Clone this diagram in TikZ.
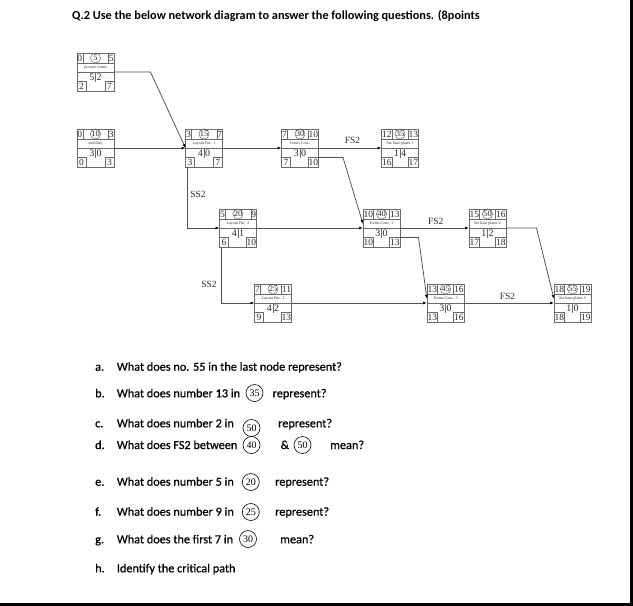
\documentclass[tikz,border=0pt]{standalone}
\usepackage{fontspec}
\setmainfont{Liberation Serif}
\newfontfamily\qfont[FakeBold=0.7]{Carlito}
\newfontfamily\tfont{Carlito}
\usetikzlibrary{arrows.meta,calc}
\definecolor{linec}{HTML}{6A6A6A}
\definecolor{numc}{HTML}{2B2B2B}
\definecolor{arrc}{HTML}{505050}
\tikzset{
 abox/.style={draw=linec,line width=0.6pt,minimum width=37pt,minimum height=38pt,inner sep=0pt,outer sep=0pt},
 cell/.style={draw=linec,line width=0.5pt,inner sep=0.5pt,outer sep=0pt,minimum height=10pt,font=\fontsize{9.5}{9.5}\selectfont,text=numc},
 bcell/.style={cell,minimum height=9.5pt,minimum width=9pt},
 idc/.style={circle,draw=linec,line width=0.5pt,inner sep=0pt,minimum size=10pt,font=\fontsize{8.5}{8.5}\selectfont,text=numc},
 inl/.style={draw=linec,line width=0.5pt},
 lbl/.style={inner sep=0pt,font=\fontsize{4}{4}\selectfont,text=numc},
 mid/.style={inner sep=0pt,font=\fontsize{10}{10}\selectfont,text=numc},
 conn/.style={draw=arrc,line width=0.75pt,-{Latex[length=4pt,width=3pt,color=black]}},
 rel/.style={inner sep=0pt,font=\fontsize{9.5}{9.5}\selectfont,text=numc},
 qtext/.style={inner sep=0pt,anchor=base west,font=\qfont\fontsize{12.25}{14}\selectfont},
 qcirc/.style={circle,draw=black,line width=0.6pt,inner sep=0pt,minimum size=17pt,font=\fontsize{10}{10}\selectfont},
}
\newcommand\topcells[4]{%
 \node[cell,anchor=north west] (#1es) at (#1.north west) {#2};
 \node[idc] (#1id) at ($(#1.north)+(0,5)$) {#3};
 \node[cell,anchor=north east] (#1ef) at (#1.north east) {#4};
}
\newcommand\botcells[3]{%
 \node[bcell,anchor=south west] (#1ls) at (#1.south west) {#2};
 \node[bcell,anchor=south east] (#1lf) at (#1.south east) {#3};
}
\newcommand\act[7]{%
 \node[abox] (#1) at (#2) {};
 \topcells{#1}#3
 \draw[inl] ($(#1.north west)+(0,10)$) -- ($(#1.north east)+(0,10)$);
 \draw[inl] (#1.west) -- (#1.east);
 \node[lbl] (#1l) at ($(#1.north)+(0,14.5)$) {#4};
 \node[mid,anchor=east] (#1d) at ($(#1.center)+(-1,4.8)$) {#5};
 \node[mid,anchor=west] (#1f) at ($(#1.center)+(1,4.8)$) {#6};
 \draw[inl] (#1.center) -- ($(#1.center)+(0,9.5)$);
 \botcells{#1}#7
}
\begin{document}
\begin{tikzpicture}[x=1pt,y=-1pt]
\useasboundingbox (0,0) rectangle (633,606);
\fill[white] (0,0) rectangle (633,606);
\fill[black] (630,0) rectangle (633,606);
\fill[black] (0,603) rectangle (633,606);

\node[qtext,font=\tfont\bfseries\fontsize{12.25}{14}\selectfont] (title) at (72,19) {Q.2 Use the below network diagram to answer the following questions. (8points};

% activity nodes
\act{n1}{95.5,72}{{0}{5}{5}}{procure forms}{5}{2}{{2}{7}}
\act{n2}{95.5,148}{{0}{10}{3}}{mobilize}{3}{0}{{0}{3}}
\act{n3}{204,148}{{3}{15}{7}}{Layout Fnc. 1}{4}{0}{{3}{7}}
\act{n4}{300,148}{{7}{30}{10}}{Forms Conc.}{3}{0}{{7}{10}}
\act{n5}{400,148}{{12}{35}{13}}{Set base plates 1}{1}{4}{{16}{17}}
\act{n6}{238,228}{{5}{20}{9}}{Layout Fnc. 2}{4}{1}{{6}{10}}
\act{n7}{381.5,228}{{10}{40}{13}}{Forms Conc. 2}{3}{0}{{10}{13}}
\act{n8}{487.5,228}{{15}{50}{16}}{Set base plates 2}{1}{2}{{17}{18}}
\act{n9}{273,303}{{7}{25}{11}}{Layout Fnc. 3}{4}{2}{{9}{13}}
\act{n10}{445.5,303}{{13}{45}{16}}{Forms Conc. 3}{3}{0}{{13}{16}}
\act{n11}{572.5,303}{{18}{55}{19}}{Set base plates 3}{1}{0}{{18}{19}}

% connectors
\draw[conn] (n1.east) -- ++(36.5,0) -- (n3.west);
\draw[conn] (n2.east) -- (n3.west);
\draw[conn] (n3.east) -- (n4.west);
\draw[conn] (n4.east) -- (n5.west);
\draw[conn] ($(n3.south west)+(1.5,0)$) |- (n6.west);
\draw[conn] ($(n4.south east)+(0,-9.5)$) -- ++(24.5,0) -- ($(n7.west)+(0,-4)$);
\draw[conn] (n6.east) -- (n7.west);
\draw[conn] (n7.east) -- (n8.west);
\draw[conn] ($(n7.south east)+(0,-9.5)$) -- ++(18.5,0) -- ($(n10.west)+(0,-4)$);
\draw[conn] (n8.east) -- ++(30.5,0) -- ($(n11.west)+(0,-4)$);
\draw[conn] ($(n6.south west)+(1.7,0)$) |- (n9.west);
\draw[conn] (n9.east) -- (n10.west);
\draw[conn] (n10.east) -- (n11.west);

% relation labels
\node[rel] (r1) at (352.5,140) {FS2};
\node[rel] (r2) at (198,194) {SS2};
\node[rel] (r3) at (435.7,221) {FS2};
\node[rel] (r4) at (209,284) {SS2};
\node[rel] (r5) at (507.5,296) {FS2};

% questions
\node[qtext] (qa) at (95,370.7) {a.};
\node[qtext] (qat) at (116.7,370.7) {What does no. 55 in the last node represent?};
\node[qtext] (qb) at (95,397.3) {b.};
\node[qtext] (qbt) at (116.7,397.3) {What does number 13 in};
\node[qcirc] (cb) at (254.5,393) {35};
\node[qtext] (qbr) at (272.5,397.3) {represent?};
\node[qtext] (qc) at (95,427.3) {c.};
\node[qtext] (qct) at (116.7,427.3) {What does number 2 in};
\node[qcirc] (cc) at (251.5,428) {50};
\node[qtext] (qcr) at (278,427.3) {represent?};
\node[qtext] (qd) at (95,449) {d.};
\node[qtext] (qdt) at (116.7,449) {What does FS2 between};
\node[qcirc] (cd1) at (251.5,445) {40};
\node[qtext] (qda) at (280.5,449) {\&};
\node[qcirc] (cd2) at (302.5,445) {50};
\node[qtext] (qdm) at (330,449) {mean?};
\node[qtext] (qe) at (95,485.7) {e.};
\node[qtext] (qet) at (116.7,485.7) {What does number 5 in};
\node[qcirc] (ce) at (250.8,482) {20};
\node[qtext] (qer) at (275,485.7) {represent?};
\node[qtext] (qf) at (95,515.7) {f.};
\node[qtext] (qft) at (116.7,515.7) {What does number 9 in};
\node[qcirc] (cf) at (250.8,512) {25};
\node[qtext] (qfr) at (275,515.7) {represent?};
\node[qtext] (qg) at (95,543.3) {g.};
\node[qtext] (qgt) at (116.7,543.3) {What does the first 7 in};
\node[qcirc] (cg) at (248,539) {30};
\node[qtext] (qgm) at (280,543.3) {mean?};
\node[qtext] (qh) at (95,572.3) {h.};
\node[qtext] (qht) at (116.7,572.3) {Identify the critical path};
\end{tikzpicture}
\end{document}
